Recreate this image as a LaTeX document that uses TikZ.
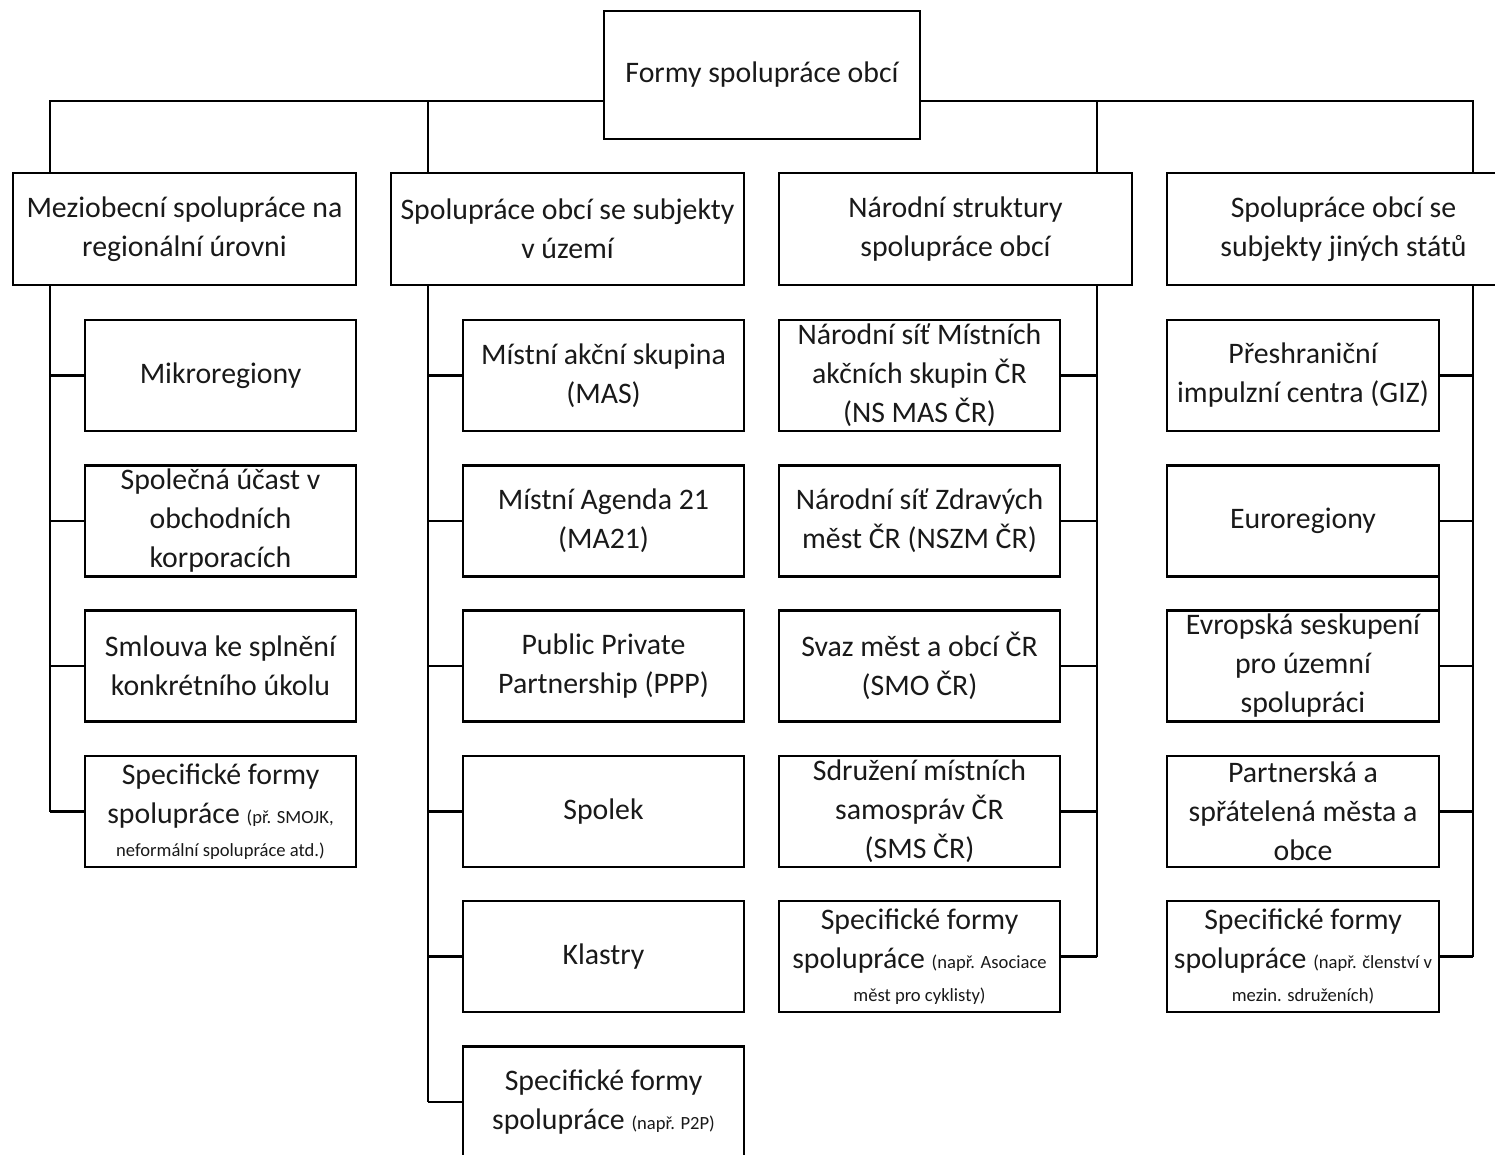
\documentclass[tikz,border=0pt]{standalone}
\usepackage{fontspec}
\setmainfont{Carlito}
\usetikzlibrary{calc}
\definecolor{lineColor}{RGB}{0, 0, 0}
\definecolor{textColor}{RGB}{25, 25, 25}
\newcommand{\smallNote}[1]{{\fontsize{9.3}{11}\selectfont #1}}
\tikzset{
  formBox/.style={draw=lineColor, line width=1.3pt, text=textColor, align=center,
    inner sep=0pt, outer sep=0pt, font=\fontsize{14.9}{19.5}\selectfont},
  rootBox/.style={formBox, minimum width=158pt, minimum height=64pt},
  groupBox/.style={formBox, minimum width=176.5pt, minimum height=56pt},
  itemBox/.style={formBox, minimum width=140.5pt, minimum height=55.5pt},
  narrowBox/.style={formBox, minimum width=136pt, minimum height=55.5pt},
  link/.style={draw=lineColor, line width=1.3pt}
}

\begin{document}
\begin{tikzpicture}[x=0.5pt, y=-0.5pt]
            \useasboundingbox (0,0) rectangle (1495,1155);

            % Root
            \node[rootBox] (root) at (762,75) {Formy spolupráce obcí};

            % Main groups
            \node[groupBox, minimum width=171.5pt] (mezi) at (184.5,229) {Meziobecní spolupráce na\\regionální úrovni};
            \node[groupBox] (uzemi) at (567.5,229) {Spolupráce obcí se subjekty\\v území};
            \node[groupBox] (narod) at (955.5,229) {Národní struktury\\spolupráce obcí};
            \node[groupBox] (cizina) at (1343.5,229) {Spolupráce obcí se\\subjekty jiných států};

            % Bus from the root
            \coordinate (busA) at (50,101);
            \coordinate (busB) at (428,101);
            \coordinate (busC) at (1097,101);
            \coordinate (busD) at (1473,101);
            \draw[link] (root.west |- busA) -| (busA |- mezi.north);
            \draw[link] (busB) -- (busB |- uzemi.north);
            \draw[link] (root.east |- busD) -| (busD |- cizina.north);
            \draw[link] (busC) -- (busC |- narod.north);

            % First column
            \node[itemBox, minimum width=135.5pt] (a1) at (220.5,375.5) {Mikroregiony};
            \node[itemBox, minimum width=135.5pt] (a2) at (220.5,521) {Společná účast v\\obchodních\\korporacích};
            \node[itemBox, minimum width=135.5pt] (a3) at (220.5,666) {Smlouva ke splnění\\konkrétního úkolu};
            \node[itemBox, minimum width=135.5pt] (a4) at (220.5,811.5) {Specifické formy\\spolupráce \smallNote{(př. SMOJK,}\\[-3pt]\smallNote{neformální spolupráce atd.)}};

            % Second column
            \node[itemBox] (b1) at (603.5,375.5) {Místní akční skupina\\(MAS)};
            \node[itemBox] (b2) at (603.5,521) {Místní Agenda 21\\(MA21)};
            \node[itemBox] (b3) at (603.5,666) {Public Private\\Partnership (PPP)};
            \node[itemBox] (b4) at (603.5,811.5) {Spolek};
            \node[itemBox] (b5) at (603.5,956.5) {Klastry};
            \node[itemBox] (b6) at (603.5,1102) {Specifické formy\\spolupráce \smallNote{(např. P2P)}};

            % Third column
            \node[itemBox] (c1) at (919.5,375.5) {Národní síť Místních\\akčních skupin ČR\\(NS MAS ČR)};
            \node[itemBox] (c2) at (919.5,521) {Národní síť Zdravých\\měst ČR (NSZM ČR)};
            \node[itemBox] (c3) at (919.5,666) {Svaz měst a obcí ČR\\(SMO ČR)};
            \node[itemBox] (c4) at (919.5,811.5) {Sdružení místních\\samospráv ČR\\(SMS ČR)};
            \node[itemBox] (c5) at (919.5,956.5) {Specifické formy\\spolupráce \smallNote{(např. Asociace}\\[-3pt]\smallNote{měst pro cyklisty)}};

            % Fourth column
            \node[narrowBox] (d1) at (1303,375.5) {Přeshraniční\\impulzní centra (GIZ)};
            \node[narrowBox] (d2) at (1303,521) {Euroregiony};
            \node[narrowBox] (d3) at (1303,666) {Evropská seskupení\\pro územní\\spolupráci};
            \node[narrowBox] (d4) at (1303,811.5) {Partnerská a\\spřátelená města a\\obce};
            \node[narrowBox] (d5) at (1303,956.5) {Specifické formy\\spolupráce \smallNote{(např. členství v}\\[-3pt]\smallNote{mezin. sdruženích)}};

            % Spines and stubs
            \draw[link] (busA |- mezi.south) -- (busA |- a4);
            \foreach \n in {a1,a2,a3,a4} \draw[link] (busA |- \n) -- (\n.west);
            \draw[link] (busB |- uzemi.south) -- (busB |- b6);
            \foreach \n in {b1,b2,b3,b4,b5,b6} \draw[link] (busB |- \n) -- (\n.west);
            \draw[link] (busC |- narod.south) -- (busC |- c5);
            \foreach \n in {c1,c2,c3,c4,c5} \draw[link] (busC |- \n) -- (\n.east);
            \draw[link] (busD |- cizina.south) -- (busD |- d5);
            \foreach \n in {d1,d2,d3,d4,d5} \draw[link] (busD |- \n) -- (\n.east);
            \draw[link] (d2.south east) -- (d2.south east |- d3.north);
        \end{tikzpicture}
\end{document}
